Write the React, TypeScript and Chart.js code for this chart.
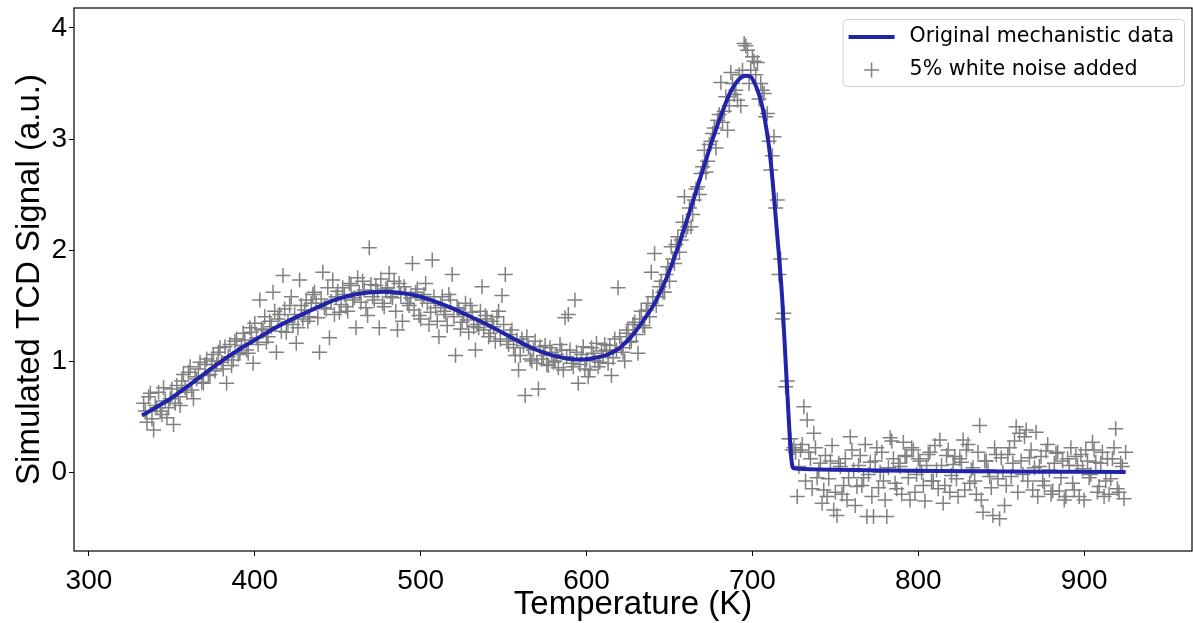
import React, { useEffect, useRef } from "react";
import { Chart, registerables } from "chart.js";

Chart.register(...registerables);

// Smooth "Original mechanistic data" curve (temperature K, signal a.u.)
const curveT = [
  332, 340, 350, 360, 370, 380, 390, 400, 410, 420, 430, 440, 450, 460, 470, 480,
  490, 500, 510, 520, 530, 540, 550, 560, 570, 580, 590, 597, 605, 612, 620, 627,
  634, 641, 648, 655, 662, 669, 676, 682, 687, 692, 696, 699, 702, 704, 706, 708,
  710, 712, 714, 716, 718, 720, 722, 723, 724, 725, 740, 780, 830, 880, 925,
];
const curveY = [
  0.51, 0.58, 0.67, 0.78, 0.89, 1.0, 1.1, 1.19, 1.28, 1.36, 1.43, 1.5, 1.56, 1.6, 1.62, 1.625,
  1.61, 1.58, 1.53, 1.47, 1.4, 1.33, 1.25, 1.17, 1.1, 1.05, 1.02, 1.015, 1.03, 1.055, 1.12, 1.22,
  1.36, 1.52, 1.74, 2.02, 2.34, 2.67, 3.0, 3.25, 3.43, 3.54, 3.57, 3.56, 3.48, 3.4, 3.29, 3.13,
  2.93, 2.65, 2.3, 1.95, 1.55, 1.0, 0.45, 0.2, 0.06, 0.035, 0.025, 0.015, 0.008, 0.004, 0.002,
];

// "5% white noise added" points, odd temperatures
const noiseT = [
  333, 335, 337, 339, 341, 343, 345, 347, 349, 351,
  353, 355, 357, 359, 361, 363, 365, 367, 369, 371,
  373, 375, 377, 379, 381, 383, 385, 387, 389, 391,
  393, 395, 397, 399, 401, 403, 405, 407, 409, 411,
  413, 415, 417, 419, 421, 423, 425, 427, 429, 431,
  433, 435, 437, 439, 441, 443, 445, 447, 449, 451,
  453, 455, 457, 459, 461, 463, 465, 467, 469, 471,
  473, 475, 477, 479, 481, 483, 485, 487, 489, 491,
  493, 495, 497, 499, 501, 503, 505, 507, 509, 511,
  513, 515, 517, 519, 521, 523, 525, 527, 529, 531,
  533, 535, 537, 539, 541, 543, 545, 547, 549, 551,
  553, 555, 557, 559, 561, 563, 565, 567, 569, 571,
  573, 575, 577, 579, 581, 583, 585, 587, 589, 591,
  593, 595, 597, 599, 601, 603, 605, 607, 609, 611,
  613, 615, 617, 619, 621, 623, 625, 627, 629, 631,
  633, 635, 637, 639, 641, 643, 645, 647, 649, 651,
  653, 655, 657, 659, 661, 663, 665, 667, 669, 671,
  673, 675, 677, 679, 681, 683, 685, 687, 689, 691,
  693, 695, 697, 699, 701, 703, 705, 707, 709, 711,
  713, 715, 717, 719, 721, 723, 725, 727, 729, 731,
  733, 735, 737, 739, 741, 743, 745, 747, 749, 751,
  753, 755, 757, 759, 761, 763, 765, 767, 769, 771,
  773, 775, 777, 779, 781, 783, 785, 787, 789, 791,
  793, 795, 797, 799, 801, 803, 805, 807, 809, 811,
  813, 815, 817, 819, 821, 823, 825, 827, 829, 831,
  833, 835, 837, 839, 841, 843, 845, 847, 849, 851,
  853, 855, 857, 859, 861, 863, 865, 867, 869, 871,
  873, 875, 877, 879, 881, 883, 885, 887, 889, 891,
  893, 895, 897, 899, 901, 903, 905, 907, 909, 911,
  913, 915, 917, 919, 921, 923, 925,
];
const noiseY = [
  0.62, 0.45, 0.71, 0.38, 0.58, 0.55, 0.76, 0.49, 0.66, 0.43,
  0.78, 0.6, 0.88, 0.72, 0.95, 0.66, 0.84, 0.99, 0.8, 1.02,
  0.88, 1.06, 0.97, 1.12, 0.93, 0.8, 1.15, 1.01, 1.2, 1.08,
  1.25, 1.1, 1.3, 0.98, 1.21, 1.55, 1.28, 1.17, 1.36, 1.62,
  1.08, 1.42, 1.77, 1.26, 1.5, 1.33, 1.16, 1.73, 1.38, 1.55,
  1.4, 1.6, 1.52, 1.08, 1.8, 1.47, 1.21, 1.73, 1.58, 1.44,
  1.66, 1.49, 1.7, 1.55, 1.3, 1.62, 1.72, 1.48, 2.02, 1.58,
  1.68, 1.3, 1.52, 1.65, 1.79, 1.57, 1.45, 1.7, 1.36, 1.61,
  1.5, 1.88, 1.62, 1.41, 1.55, 1.7, 1.33, 1.91, 1.48, 1.22,
  1.58, 1.42, 1.6, 1.78, 1.05, 1.47, 1.35, 1.52, 1.26, 1.44,
  1.1, 1.3, 1.67, 1.41, 1.22, 1.36, 1.18, 1.45, 1.59, 1.78,
  1.15, 1.28, 1.05, 0.92, 1.2, 0.69, 1.12, 1.0, 1.18, 0.75,
  1.02, 1.14, 0.96, 1.08, 1.0, 0.94, 1.1, 1.39, 1.42, 0.98,
  1.55, 0.8, 1.06, 0.93, 0.86, 1.12, 1.0, 0.95, 1.09, 1.15,
  0.98, 0.87, 1.2, 1.66, 1.12, 1.0, 1.28, 1.18, 1.35, 1.07,
  1.45, 1.3, 1.52, 1.8, 1.97, 1.58, 1.72, 1.62, 1.85, 2.03,
  1.88, 2.12, 2.09, 2.48, 2.21, 2.21, 2.45, 2.57, 2.69, 2.9,
  2.8, 2.98, 3.1, 3.17, 3.51, 3.25, 3.08, 3.6, 3.4, 3.35,
  3.3, 3.86, 3.8, 3.62, 3.7, 3.69, 3.5, 3.41, 3.23, 2.72,
  3.02, 2.45, 1.92, 1.43, 0.82, 0.3, 0.22, -0.22, 0.2, 0.59,
  0.47, 0.12, 0.35, -0.05, 0.08, -0.16, -0.22, 0.1, -0.34, -0.39,
  0.05, -0.12, -0.25, 0.32, 0.02, -0.13, 0.15, -0.05, -0.4, 0.09,
  -0.4, 0.22, 0.0, -0.08, -0.4, 0.31, 0.12, -0.15, 0.05, 0.27,
  0.14, -0.25, 0.2, -0.02, 0.1, -0.12, 0.06, 0.18, -0.08, 0.02,
  0.29, -0.28, 0.15, -0.18, 0.07, -0.06, 0.12, 0.29, 0.2, -0.1,
  0.04, -0.2, 0.42, -0.36, 0.1, -0.04, -0.39, 0.16, -0.42, 0.0,
  -0.12, 0.22, 0.08, 0.41, 0.35, -0.02, 0.38, 0.13, -0.16, 0.36,
  0.05, -0.08, 0.19, 0.02, -0.17, 0.17, -0.17, 0.1, -0.22, 0.06,
  -0.1, 0.14, -0.22, 0.03, 0.2, -0.05, 0.27, 0.09, -0.13, 0.18,
  -0.08, -0.2, 0.12, 0.39, -0.18, 0.05, 0.18,
];

// "5% white noise added" points, even temperatures
const noiseT2 = [
  334, 336, 338, 340, 342, 344, 346, 348, 350, 352,
  354, 356, 358, 360, 362, 364, 366, 368, 370, 372,
  374, 376, 378, 380, 382, 384, 386, 388, 390, 392,
  394, 396, 398, 400, 402, 404, 406, 408, 410, 412,
  414, 416, 418, 420, 422, 424, 426, 428, 430, 432,
  434, 436, 438, 440, 442, 444, 446, 448, 450, 452,
  454, 456, 458, 460, 462, 464, 466, 468, 470, 472,
  474, 476, 478, 480, 482, 484, 486, 488, 490, 492,
  494, 496, 498, 500, 502, 504, 506, 508, 510, 512,
  514, 516, 518, 520, 522, 524, 526, 528, 530, 532,
  534, 536, 538, 540, 542, 544, 546, 548, 550, 552,
  554, 556, 558, 560, 562, 564, 566, 568, 570, 572,
  574, 576, 578, 580, 582, 584, 586, 588, 590, 592,
  594, 596, 598, 600, 602, 604, 606, 608, 610, 612,
  614, 616, 618, 620, 622, 624, 626, 628, 630, 632,
  634, 636, 638, 640, 642, 644, 646, 648, 650, 652,
  654, 656, 658, 660, 662, 664, 666, 668, 670, 672,
  674, 676, 678, 680, 682, 684, 686, 688, 690, 692,
  694, 696, 698, 700, 702, 704, 706, 708, 710, 712,
  714, 716, 718, 720, 722, 724, 726, 728, 730, 732,
  734, 736, 738, 740, 742, 744, 746, 748, 750, 752,
  754, 756, 758, 760, 762, 764, 766, 768, 770, 772,
  774, 776, 778, 780, 782, 784, 786, 788, 790, 792,
  794, 796, 798, 800, 802, 804, 806, 808, 810, 812,
  814, 816, 818, 820, 822, 824, 826, 828, 830, 832,
  834, 836, 838, 840, 842, 844, 846, 848, 850, 852,
  854, 856, 858, 860, 862, 864, 866, 868, 870, 872,
  874, 876, 878, 880, 882, 884, 886, 888, 890, 892,
  894, 896, 898, 900, 902, 904, 906, 908, 910, 912,
  914, 916, 918, 920, 922, 924,
];
const noiseY2 = [
  0.55, 0.68, 0.48, 0.6, 0.72, 0.52, 0.64, 0.58, 0.75, 0.62,
  0.68, 0.82, 0.76, 0.9, 0.74, 0.86, 0.93, 0.81, 0.97, 0.87,
  1.0, 0.91, 1.08, 0.99, 1.13, 1.04, 0.96, 1.18, 1.06, 1.14,
  1.19, 1.07, 1.26, 1.34, 1.15, 1.29, 1.4, 1.22, 1.31, 1.45,
  1.38, 1.27, 1.47, 1.35, 1.58, 1.42, 1.3, 1.5, 1.46, 1.36,
  1.52, 1.62, 1.39, 1.56, 1.48, 1.66, 1.54, 1.42, 1.63, 1.51,
  1.6, 1.45, 1.68, 1.57, 1.75, 1.53, 1.64, 1.41, 1.69, 1.55,
  1.63, 1.74, 1.49, 1.66, 1.58, 1.72, 1.28, 1.6, 1.67, 1.52,
  1.57, 1.46, 1.65, 1.38, 1.6, 1.52, 1.44, 1.58, 1.36, 1.5,
  1.45, 1.32, 1.55, 1.4, 1.48, 1.29, 1.42, 1.37, 1.5, 1.31,
  1.33, 1.45, 1.28, 1.38, 1.25, 1.31, 1.4, 1.2, 1.33, 1.18,
  1.24, 1.12, 1.19, 1.05, 1.14, 1.22, 1.02, 1.1, 0.98, 1.13,
  1.05, 0.97, 1.12, 0.99, 1.06, 1.15, 0.92, 1.04, 1.1, 0.95,
  1.08, 0.97, 1.13, 1.01, 0.92, 1.07, 1.16, 0.99, 1.04, 1.1,
  1.14, 1.03, 1.1, 1.22, 1.08, 1.25, 1.17, 1.33, 1.24, 1.38,
  1.32, 1.46, 1.4, 1.58, 1.5, 1.67, 1.62, 1.78, 1.72, 1.92,
  2.05, 1.98, 2.25, 2.18, 2.38, 2.32, 2.55, 2.5, 2.75, 2.7,
  2.95, 3.05, 2.92, 3.22, 3.15, 3.38, 3.3, 3.5, 3.44, 3.58,
  3.62, 3.84, 3.5, 3.74, 3.58, 3.36, 3.44, 3.2, 2.98, 2.85,
  2.38, 1.78, 1.38, 0.77, 0.3, 0.2, 0.18, 0.05, 0.25, -0.08,
  0.18, -0.15, 0.22, 0.02, -0.28, 0.15, -0.06, 0.24, -0.18, 0.08,
  -0.2, 0.12, -0.05, 0.2, -0.3, 0.06, -0.12, 0.25, -0.02, -0.22,
  0.1, -0.14, 0.18, -0.25, 0.04, 0.28, -0.1, 0.08, -0.2, 0.15,
  -0.05, 0.22, -0.18, 0.12, 0.0, -0.26, 0.16, -0.08, 0.24, -0.15,
  0.06, -0.12, 0.2, -0.03, 0.14, -0.22, 0.09, -0.16, 0.25, 0.02,
  -0.08, 0.18, -0.25, 0.1, 0.02, -0.14, 0.22, -0.06, 0.13, -0.3,
  0.16, -0.04, 0.28, -0.18, 0.1, 0.32, -0.08, 0.2, 0.04, -0.22,
  0.14, -0.12, 0.25, -0.2, 0.08, 0.18, -0.05, -0.25, 0.12, 0.22,
  -0.16, 0.06, 0.16, -0.25, 0.1, -0.02, 0.2, -0.18, 0.08, -0.22,
  0.12, -0.06, 0.22, -0.15, 0.08, -0.24,
];

const xTicks = [300, 400, 500, 600, 700, 800, 900];
const yTicks = [0, 1, 2, 3, 4];
const X_MIN = 291;
const X_MAX = 965;
const Y_MIN = -0.71;
const Y_MAX = 4.18;

const X_TITLE = "Temperature (K)";
const Y_TITLE = "Simulated TCD Signal (a.u.)";
const LINE_LABEL = "Original mechanistic data";
const NOISE_LABEL = "5% white noise added";
const LINE_COLOR = "#2124a9";
const NOISE_COLOR = "#808080";

const framePlugin = {
  id: "frame",
  afterDraw(chart: any) {
    const { ctx, chartArea: a } = chart;
    ctx.save();
    ctx.strokeStyle = "#000";
    ctx.lineWidth = 1.2;
    ctx.strokeRect(a.left, a.top, a.right - a.left, a.bottom - a.top);
    ctx.restore();
  },
};

const legendPlugin = {
  id: "boxLegend",
  afterDraw(chart: any) {
    const { ctx, chartArea: a } = chart;
    const ds = chart.data.datasets;
    ctx.save();
    ctx.font = '20.6px "DejaVu Sans"';
    const textW = Math.max(...ds.map((d: any) => ctx.measureText(d.label).width));
    const padL = 6, sampleW = 46, gap = 15, padR = 10, rowH = 33, h = 67;
    const w = padL + sampleW + gap + textW + padR;
    const right = a.right - 8;
    const top = a.top + 11;
    const left = right - w;
    ctx.beginPath();
    if ((ctx as any).roundRect) (ctx as any).roundRect(left + 0.5, top + 0.5, w, h, 4);
    else ctx.rect(left + 0.5, top + 0.5, w, h);
    ctx.fillStyle = "rgba(255,255,255,0.85)";
    ctx.fill();
    ctx.strokeStyle = "#d0d0d0";
    ctx.lineWidth = 1;
    ctx.stroke();
    ds.forEach((d: any, i: number) => {
      const cy = top + 18 + i * rowH;
      const sx = left + padL;
      if (d.type === "line") {
        ctx.strokeStyle = d.borderColor;
        ctx.lineWidth = d.borderWidth;
        ctx.beginPath();
        ctx.moveTo(sx, cy);
        ctx.lineTo(sx + sampleW, cy);
        ctx.stroke();
      } else {
        const cx = sx + sampleW / 2;
        const r = d.pointRadius;
        ctx.strokeStyle = d.borderColor;
        ctx.lineWidth = d.borderWidth;
        ctx.beginPath();
        ctx.moveTo(cx - r, cy);
        ctx.lineTo(cx + r, cy);
        ctx.moveTo(cx, cy - r);
        ctx.lineTo(cx, cy + r);
        ctx.stroke();
      }
      ctx.fillStyle = "#000";
      ctx.textAlign = "left";
      ctx.textBaseline = "middle";
      ctx.fillText(d.label, sx + sampleW + gap, cy);
    });
    ctx.restore();
  },
};

export default function App() {
  const ref = useRef<HTMLCanvasElement>(null);
  useEffect(() => {
    const canvas = ref.current;
    if (!canvas) return;
    const lineData = curveT.map((t, i) => ({ x: t, y: curveY[i] }));
    const noiseData = noiseT
      .map((t, i) => ({ x: t, y: noiseY[i] }))
      .concat(noiseT2.map((t, i) => ({ x: t, y: noiseY2[i] })));
    const tickFont = { family: '"Liberation Sans", Arial, sans-serif', size: 28 };
    const titleFont = { family: '"Liberation Sans", Arial, sans-serif', size: 33, lineHeight: 1 };
    const chart = new Chart(canvas, {
      type: "scatter",
      data: {
        datasets: [
          {
            type: "line",
            label: LINE_LABEL,
            data: lineData,
            borderColor: LINE_COLOR,
            backgroundColor: LINE_COLOR,
            borderWidth: 4,
            pointRadius: 0,
            cubicInterpolationMode: "monotone",
            fill: false,
            showLine: true,
          } as any,
          {
            type: "scatter",
            label: NOISE_LABEL,
            data: noiseData,
            pointStyle: "cross",
            pointRadius: 7.5,
            borderColor: NOISE_COLOR,
            backgroundColor: NOISE_COLOR,
            borderWidth: 1.5,
          } as any,
        ],
      },
      options: {
        responsive: false,
        animation: false,
        devicePixelRatio: 1,
        layout: { autoPadding: false, padding: { top: 8, right: 1, left: 0, bottom: 0 } },
        plugins: { legend: { display: false }, tooltip: { enabled: false } },
        scales: {
          x: {
            type: "linear",
            min: X_MIN,
            max: X_MAX,
            afterBuildTicks: (s: any) => {
              s.ticks = xTicks.map((v) => ({ value: v }));
            },
            afterFit: (s: any) => {
              s.height = 72;
              s.paddingLeft = 0;
              s.paddingRight = 0;
            },
            grid: { drawOnChartArea: false, drawTicks: true, tickLength: 5, tickColor: "#000", tickWidth: 1 },
            border: { display: false },
            ticks: { color: "#000", font: tickFont, padding: 8, maxRotation: 0, autoSkip: false },
            title: { display: true, text: X_TITLE, color: "#000", font: titleFont, padding: { top: 0, bottom: 2 } },
          },
          y: {
            type: "linear",
            min: Y_MIN,
            max: Y_MAX,
            afterBuildTicks: (s: any) => {
              s.ticks = yTicks.map((v) => ({ value: v }));
            },
            afterFit: (s: any) => {
              s.width = 74;
              s.paddingTop = 0;
              s.paddingBottom = 0;
            },
            grid: { drawOnChartArea: false, drawTicks: true, tickLength: 5, tickColor: "#000", tickWidth: 1 },
            border: { display: false },
            ticks: { color: "#000", font: tickFont, padding: 2, autoSkip: false },
            title: { display: true, text: Y_TITLE, color: "#000", font: titleFont, padding: { top: 13, bottom: 0 } },
          },
        },
      } as any,
      plugins: [framePlugin, legendPlugin],
    });
    return () => chart.destroy();
  }, []);
  return (
    <div style={{ position: "absolute", left: 0, top: 0, width: 1193, height: 623, background: "#fff" }}>
      <canvas ref={ref} width={1193} height={623} style={{ display: "block" }} />
    </div>
  );
}
